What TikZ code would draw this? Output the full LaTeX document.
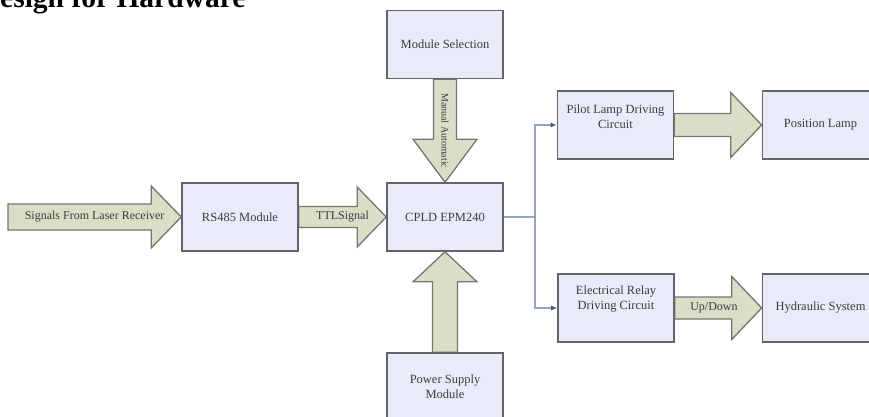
\documentclass[tikz,border=0pt]{standalone}
\usepackage{fontspec}
\setmainfont{Liberation Serif}
\usetikzlibrary{calc,arrows.meta}
\definecolor{boxfill}{RGB}{232,236,248}
\definecolor{boxline}{RGB}{100,100,106}
\definecolor{arrfill}{RGB}{218,222,198}
\definecolor{arrline}{RGB}{118,118,112}
\definecolor{connline}{RGB}{150,165,190}
\definecolor{conntip}{RGB}{70,85,115}
\definecolor{txt}{RGB}{60,60,66}
\tikzset{
 blk/.style={draw=boxline, fill=boxfill, line width=1.6pt, minimum width=116pt, minimum height=68pt, inner sep=0pt, align=center, text=txt, font=\fontsize{12.5}{15}\selectfont},
 intext/.style={align=center, text=txt, inner sep=0pt, font=\fontsize{12.5}{15}\selectfont},
 barrow/.style={draw=arrline, fill=arrfill, line width=1.3pt, line join=miter},
 blbl/.style={text=txt, font=\fontsize{12}{14}\selectfont, inner sep=0pt},
 conn/.style={draw=connline, line width=1.2pt},
 conntipped/.style={conn, -{Latex[length=6pt,width=5pt,color=conntip]}},
}
% #1 tail, #2 tip, #3 shaft half width, #4 head half width, #5 head length
\newcommand\blockarrow[5]{%
 \coordinate (bb) at ($(#2)!#5pt!(#1)$);
 \draw[barrow] ($(#1)!#3pt!90:(#2)$) -- ($(bb)!#3pt!90:(#2)$) -- ($(bb)!#4pt!90:(#2)$) -- (#2)
   -- ($(bb)!#4pt!-90:(#2)$) -- ($(bb)!#3pt!-90:(#2)$) -- ($(#1)!#3pt!-90:(#2)$) -- cycle;}
\begin{document}
\begin{tikzpicture}[x=1pt,y=-1pt]
\path[use as bounding box] (0,0) rectangle (869,417);
\clip (0,0) rectangle (869,417);
\fill[white] (0,0) rectangle (869,417);
\node[anchor=base west, inner sep=0pt, font=\fontsize{29.5}{30}\selectfont\bfseries] (title) at (0,7.5) {esign for Hardware};

% node placement (boxes drawn after the block arrows)
\path (240,217) coordinate (rsc) (445,217) coordinate (cpldc) (445,44.5) coordinate (msc)
      (445,387) coordinate (psc) (615.5,125) coordinate (pilotc) (820.5,125) coordinate (posc)
      (616,308) coordinate (relayc) (820.5,308) coordinate (hydc);
\node[blk] (rs) at (rsc) {RS485 Module};
\node[blk] (cpld) at (cpldc) {CPLD EPM240};
\node[blk] (ms) at (msc) {Module Selection};
\node[blk] (ps) at (psc) {Power Supply\\Module};
\node[blk] (pilot) at (pilotc) {};
\node[blk] (pos) at (posc) {Position Lamp};
\node[blk] (relay) at (relayc) {};
\node[blk] (hyd) at (hydc) {Hydraulic System};
\coordinate (src) at (8,217);

% block arrows
\blockarrow{src}{rs.west}{13}{31}{30}
\blockarrow{rs.east}{cpld.west}{10.5}{30}{29}
\blockarrow{ms.south}{cpld.north}{11.5}{32}{43}
\blockarrow{ps.north}{cpld.south}{12.5}{32}{30}
\blockarrow{pilot.east}{pos.west}{11.5}{32.5}{31}
\blockarrow{relay.east}{hyd.west}{11}{31.5}{30}

% redraw boxes on top
\node[blk] at (rsc) {RS485 Module};
\node[blk] at (cpldc) {CPLD EPM240};
\node[blk] at (msc) {Module Selection};
\node[blk] at (psc) {Power Supply\\Module};
\node[blk] at (pilotc) {};
\node[blk] at (posc) {Position Lamp};
\node[blk] at (relayc) {};
\node[blk] at (hydc) {Hydraulic System};
\node[intext] (pilottxt) at ($(pilot.center)+(0,-8)$) {Pilot Lamp Driving\\Circuit};
\node[intext] (relaytxt) at ($(relay.center)+(0,-8.5)$) {Electrical Relay\\Driving Circuit};

% arrow labels
\node[blbl] (lsig) at ($(src)!0.5!(rs.west)$) {Signals From Laser Receiver};
\node[blbl] (lttl) at ($(rs.east)!0.5!(cpld.west)$) {TTLSignal};
\node[blbl, rotate=-90, font=\fontsize{10}{12}\selectfont] (lman) at ($(ms.south)!0.5!(cpld.north)$) {Manual Automatic};
\node[blbl] (lud) at ($(relay.east)!0.45!(hyd.west)$) {Up/Down};

% connectors
\coordinate (jn) at (535,217);
\draw[conn] (cpld.east) -- (jn);
\draw[conntipped] (jn) |- (pilot.west);
\draw[conntipped] (jn) |- (relay.west);
\end{tikzpicture}
\end{document}
